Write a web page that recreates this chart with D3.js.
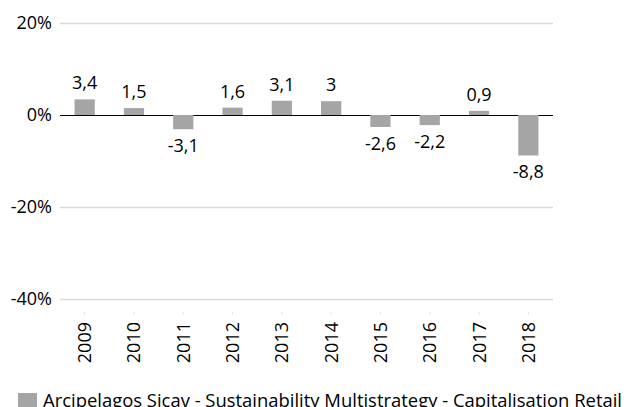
<!DOCTYPE html>
<html>
<head>
<meta charset="utf-8">
<script src="https://cdn.jsdelivr.net/npm/d3@7"></script>
<style>
  body { margin: 0; background: #fff; }
  text { font-family: "Open Sans", sans-serif; fill: #000; }
</style>
</head>
<body>
<div id="chart"></div>
<script>
// Data
const years = ["2009", "2010", "2011", "2012", "2013", "2014", "2015", "2016", "2017", "2018"];
const returns = [3.4, 1.5, -3.1, 1.6, 3.1, 3, -2.6, -2.2, 0.9, -8.8];
const yTicks = [20, 0, -20, -40];
const seriesName = "Arcipelagos Sicav - Sustainability Multistrategy - Capitalisation Retail";

const W = 629, H = 407;
const margin = { top: 23, right: 76, bottom: 108, left: 60 };
const fs = 18;

const svg = d3.select("#chart")
    .append("svg")
    .attr("width", W)
    .attr("height", H);

const x = d3.scaleBand()
    .domain(years)
    .range([margin.left, W - margin.right])
    .paddingInner(0.59)
    .paddingOuter(0.295);

const y = d3.scaleLinear()
    .domain([-40, 20])
    .range([H - margin.bottom, margin.top]);

// gridlines + y labels
svg.append("g")
    .selectAll("line")
    .data(yTicks)
    .join("line")
    .attr("x1", margin.left)
    .attr("x2", W - margin.right)
    .attr("y1", d => y(d) + 0.5)
    .attr("y2", d => y(d) + 0.5)
    .attr("stroke", d => d === 0 ? "#000" : "#d9d9d9")
    .attr("stroke-width", d => d === 0 ? 1 : 1.3);

svg.append("g")
    .selectAll("text")
    .data(yTicks)
    .join("text")
    .attr("x", 52)
    .attr("y", d => y(d))
    .attr("dy", "0.36em")
    .attr("text-anchor", "end")
    .attr("font-size", fs)
    .text(d => d + "%");

// bars
svg.append("g")
    .selectAll("rect")
    .data(returns)
    .join("rect")
    .attr("x", (d, i) => x(years[i]))
    .attr("width", x.bandwidth())
    .attr("y", d => y(Math.max(0, d)))
    .attr("height", d => Math.abs(y(d) - y(0)))
    .attr("fill", "#a5a5a5");

// value labels
svg.append("g")
    .selectAll("text")
    .data(returns)
    .join("text")
    .attr("x", (d, i) => x(years[i]) + x.bandwidth() / 2)
    .attr("y", d => d >= 0 ? y(d) - 10 : y(d) + 23)
    .attr("text-anchor", "middle")
    .attr("font-size", fs)
    .text(d => String(d).replace(".", ","));

// year ticks (rotated)
const xAxis = svg.append("g");
xAxis.selectAll("text")
    .data(years)
    .join("text")
    .attr("transform", d => `translate(${x(d) + x.bandwidth() / 2},322) rotate(-90)`)
    .attr("text-anchor", "end")
    .attr("dy", "0.36em")
    .attr("font-size", fs)
    .text(d => d);

xAxis.selectAll("line")
    .data(years)
    .join("line")
    .attr("x1", d => x(d) + x.bandwidth() / 2)
    .attr("x2", d => x(d) + x.bandwidth() / 2)
    .attr("y1", 312)
    .attr("y2", 315)
    .attr("stroke", "#e6e6e6");

// legend
const legend = svg.append("g").attr("transform", "translate(18,393)");
legend.append("rect")
    .attr("width", 19)
    .attr("height", 14)
    .attr("fill", "#a5a5a5");
legend.append("text")
    .attr("x", 25)
    .attr("y", 14)
    .attr("font-size", fs)
    .attr("textLength", 579)
    .attr("lengthAdjust", "spacingAndGlyphs")
    .text(seriesName);
</script>
</body>
</html>
